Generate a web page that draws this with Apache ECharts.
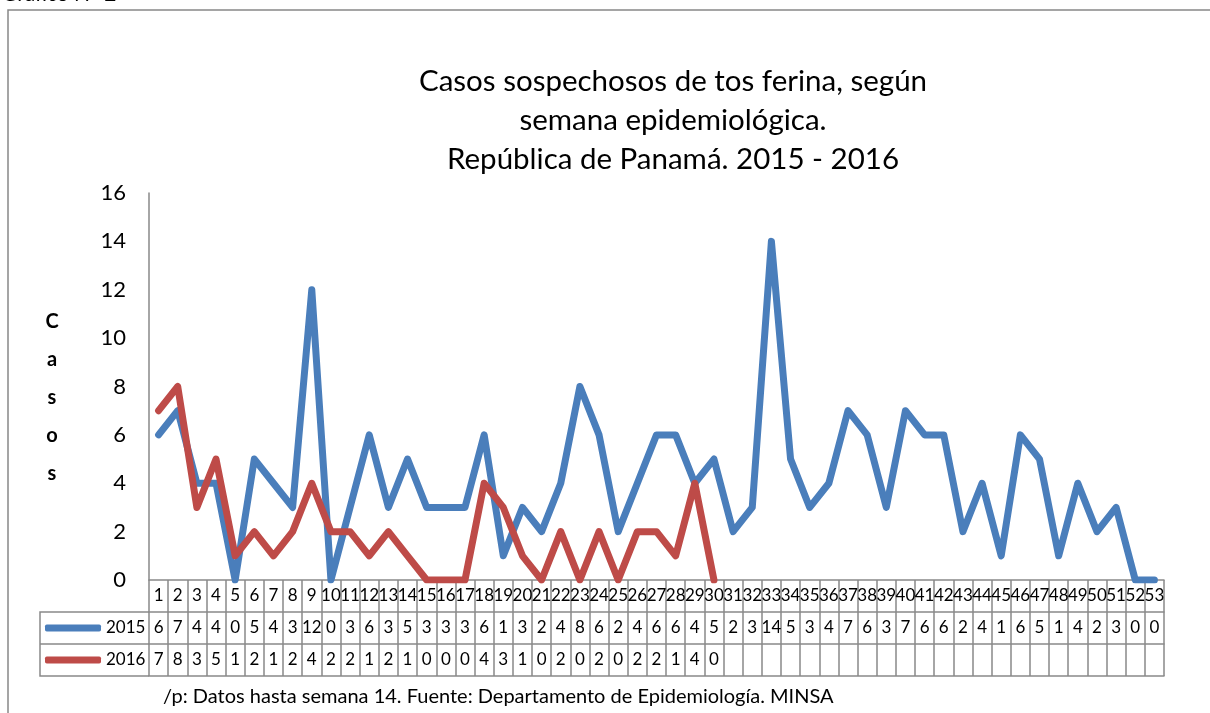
<!DOCTYPE html>
<html>
<head>
<meta charset="utf-8">
<script src="https://cdn.jsdelivr.net/npm/echarts@6/dist/echarts.min.js"></script>
<style>html,body{margin:0;padding:0;background:#fff;}#c{width:1210px;height:713px;}</style>
</head>
<body>
<div id="c"></div>
<script>
const weeks = ['1','2','3','4','5','6','7','8','9','10','11','12','13','14','15','16','17','18','19','20','21','22','23','24','25','26','27','28','29','30','31','32','33','34','35','36','37','38','39','40','41','42','43','44','45','46','47','48','49','50','51','52','53'];
const s2015 = [6,7,4,4,0,5,4,3,12,0,3,6,3,5,3,3,3,6,1,3,2,4,8,6,2,4,6,6,4,5,2,3,14,5,3,4,7,6,3,7,6,6,2,4,1,6,5,1,4,2,3,0,0];
const s2016 = [7,8,3,5,1,2,1,2,4,2,2,1,2,1,0,0,0,4,3,1,0,2,0,2,0,2,2,1,4,0];
const yTicks = [0,2,4,6,8,10,12,14,16];
const titleText = 'Casos sospechosos de tos ferina, según\nsemana epidemiológica.\nRepública de Panamá. 2015 - 2016';
const footText = '/p: Datos hasta semana 14. Fuente: Departamento de Epidemiología. MINSA';

const FONT = 'Lato, "Open Sans", sans-serif';
const GRID_LINE = '#898989';
const BLUE = '#4A7EBB', RED = '#BE4B48';
const chart = echarts.init(document.getElementById('c'), null, {renderer:'canvas'});

function tableAxis(offset, labels, showLabel) {
  return {
    type:'category', data: weeks, position:'bottom', offset: offset, gridIndex:0,
    boundaryGap:true,
    axisLine:{show:true, lineStyle:{color:GRID_LINE, width:1.5}},
    axisTick:{show:false},
    axisLabel:{show:showLabel, interval:0, margin:7, color:'#000', fontFamily:FONT, fontSize:17,
      formatter:(v, i) => (labels && labels[i] !== undefined) ? String(labels[i]) : ''},
    splitLine:{show:false}
  };
}

const xAxes = [
  {
    type:'category', data: weeks, position:'bottom', boundaryGap:true,
    axisLine:{show:true, lineStyle:{color:GRID_LINE, width:1.5}},
    axisTick:{show:true, interval:0, length:96, lineStyle:{color:GRID_LINE, width:1.5}},
    axisLabel:{show:true, interval:0, margin:7, color:'#000', fontFamily:FONT, fontSize:17},
    splitLine:{show:false}
  },
  tableAxis(32, s2015, true),
  tableAxis(64, s2016, true),
  tableAxis(96, null, false)
];

chart.setOption({
  animation:false,
  backgroundColor:'#fff',
  grid:{left:149, right:46, top:193, bottom:133, containLabel:false},
  xAxis: xAxes,
  yAxis:{
    type:'value', min:0, max:16, interval:2,
    axisLine:{show:true, lineStyle:{color:GRID_LINE, width:1.5}},
    axisTick:{show:false},
    splitLine:{show:false},
    axisLabel:{margin:23, color:'#000', fontFamily:FONT, fontSize:22,
      formatter:(v)=> yTicks.includes(v) ? String(v) : ''}
  },
  legend:{
    orient:'vertical', left:45, top:612, padding:0, itemGap:0,
    itemWidth:56, itemHeight:7, icon:'roundRect',
    textStyle:{color:'#000', fontFamily:FONT, fontSize:17, lineHeight:32},
    data:['2015','2016']
  },
  series:[
    {name:'2015', type:'line', data:s2015, xAxisIndex:0, symbol:'none',
      itemStyle:{color:BLUE},
      lineStyle:{color:BLUE, width:7, cap:'round', join:'round'}},
    {name:'2016', type:'line', data:s2016, xAxisIndex:0, symbol:'none',
      itemStyle:{color:RED},
      lineStyle:{color:RED, width:7, cap:'round', join:'round'}}
  ],
  graphic:[
    {type:'rect', shape:{x:8, y:10, width:1220, height:720}, style:{fill:'none', stroke:'#888', lineWidth:1.5}, silent:true, z:-1},
    {type:'text', x:2, y:5, style:{text:'Gráfico N° 2', font:'21px '+FONT, fill:'#000', verticalAlign:'bottom'}},
    {type:'text', x:673, y:62, style:{text:titleText, font:'29.5px '+FONT, fill:'#000', textAlign:'center', verticalAlign:'top', lineHeight:39}},
    {type:'text', x:52, y:303, style:{text:'C\na\ns\no\ns', font:'bold 20px '+FONT, fill:'#000', textAlign:'center', verticalAlign:'top', lineHeight:38}},
    {type:'text', x:163, y:697, style:{text:footText, font:'20px '+FONT, fill:'#000', verticalAlign:'middle'}},
    {type:'polyline', shape:{points:[[149,612],[40,612],[40,676],[149,676]]}, style:{stroke:GRID_LINE, lineWidth:1.5, fill:'none'}, silent:true},
    {type:'line', shape:{x1:40, y1:644, x2:149, y2:644}, style:{stroke:GRID_LINE, lineWidth:1.5}, silent:true}
  ]
});
</script>
</body>
</html>
